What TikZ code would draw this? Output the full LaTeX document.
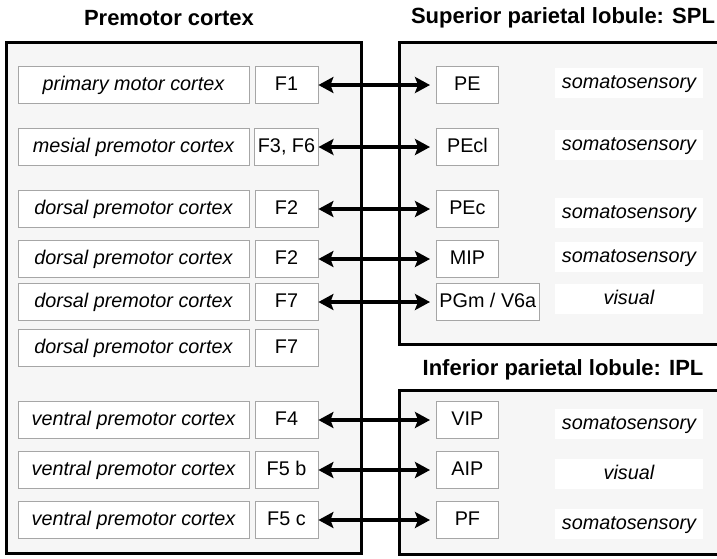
\documentclass[tikz,border=0pt]{standalone}
\usepackage{fontspec}
\setmainfont{Liberation Sans}
\usetikzlibrary{arrows.meta,positioning}

\begin{document}
\begin{tikzpicture}[
    x=1pt, y=-1pt,
    area/.style={rectangle, draw=gray!70, fill=white, line width=0.8pt, minimum width=231pt, minimum height=37pt, text height=14pt, text depth=4pt, font=\fontsize{19.8}{22}\selectfont\itshape},
    field/.style={rectangle, draw=gray!70, fill=white, line width=0.8pt, minimum width=63pt, minimum height=37pt, inner xsep=3pt, text height=14pt, text depth=4pt, font=\fontsize{19.8}{22}\selectfont},
    target/.style={field, minimum width=62pt, anchor=west},
    modality/.style={rectangle, fill=white, minimum width=148pt, minimum height=30pt, text height=14pt, text depth=4pt, font=\fontsize{19.8}{22}\selectfont\itshape},
    region/.style={draw=black, fill=gray!7, line width=3pt},
    title/.style={font=\fontsize{22}{24}\selectfont\bfseries},
    arrow/.style={<->, line width=3.5pt, >={Stealth[length=15pt,width=16pt,inset=3pt]}, shorten >=6pt}
]

\clip (0,0) rectangle (717,558);

% Frames
\draw[region] (6,42) rectangle (361,553);
\draw[region] (399,42) rectangle (730,344);
\draw[region] (399,390) rectangle (730,554);

\node[title] (premotor) at (169,18) {Premotor cortex};
\node[title] (spl) at (563,18) {Superior parietal lobule: SPL};
\node[title] (ipl) at (563,370) {Inferior parietal lobule: IPL};

% Premotor cortex
\node[area] (A1) at (133.5,85) {primary motor cortex};
\node[field] (F1) at (286.5,85) {F1};
\node[area] (A2) at (133.5,147) {mesial premotor cortex};
\node[field] (F3F6) at (286.5,147) {F3, F6};
\node[area] (A3) at (133.5,209) {dorsal premotor cortex};
\node[field] (F2a) at (286.5,209) {F2};
\node[area] (A4) at (133.5,259) {dorsal premotor cortex};
\node[field] (F2b) at (286.5,259) {F2};
\node[area] (A5) at (133.5,302) {dorsal premotor cortex};
\node[field] (F7a) at (286.5,302) {F7};
\node[area] (A6) at (133.5,348) {dorsal premotor cortex};
\node[field] (F7b) at (286.5,348) {F7};
\node[area] (A7) at (133.5,420) {ventral premotor cortex};
\node[field] (F4) at (286.5,420) {F4};
\node[area] (A8) at (133.5,470) {ventral premotor cortex};
\node[field] (F5b) at (286.5,470) {F5 b};
\node[area] (A9) at (133.5,520) {ventral premotor cortex};
\node[field] (F5c) at (286.5,520) {F5 c};

% SPL
\node[target] (PE) at (436,85) {PE};
\node[modality] (mPE) at (629,83) {somatosensory};
\node[target] (PEcl) at (436,147) {PEcl};
\node[modality] (mPEcl) at (629,145) {somatosensory};
\node[target] (PEc) at (436,209) {PEc};
\node[modality] (mPEc) at (629,213) {somatosensory};
\node[target] (MIP) at (436,259) {MIP};
\node[modality] (mMIP) at (629,257) {somatosensory};
\node[target] (PGm) at (436,302) {PGm / V6a};
\node[modality] (mPGm) at (629,299) {visual};

% IPL
\node[target] (VIP) at (436,420) {VIP};
\node[modality] (mVIP) at (629,424) {somatosensory};
\node[target] (AIP) at (436,470) {AIP};
\node[modality] (mAIP) at (629,474) {visual};
\node[target] (PF) at (436,520) {PF};
\node[modality] (mPF) at (629,524) {somatosensory};

% Connections
\draw[arrow] (F1) -- (PE);
\draw[arrow] (F3F6) -- (PEcl);
\draw[arrow] (F2a) -- (PEc);
\draw[arrow] (F2b) -- (MIP);
\draw[arrow] (F7a) -- (PGm);
\draw[arrow] (F4) -- (VIP);
\draw[arrow] (F5b) -- (AIP);
\draw[arrow] (F5c) -- (PF);

\end{tikzpicture}
\end{document}
